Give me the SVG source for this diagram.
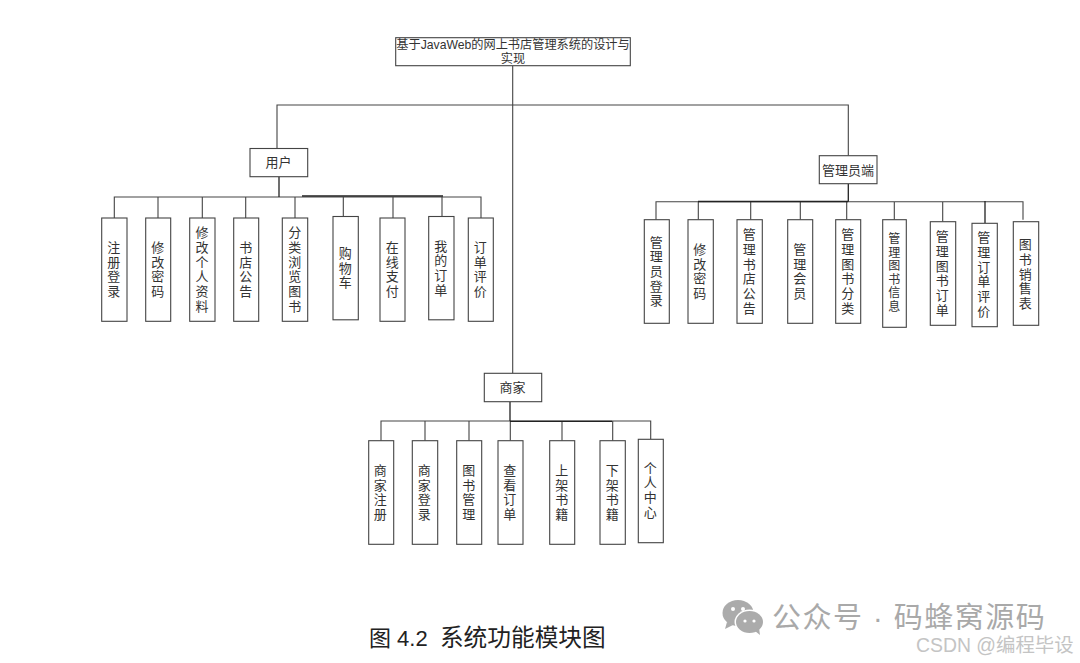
<svg xmlns="http://www.w3.org/2000/svg" width="1080" height="663" viewBox="0 0 1080 663">
<style>
text{font-family:"Liberation Sans","Noto Sans CJK SC",sans-serif;fill:#333}
.b{fill:#fff;stroke:#444;stroke-width:1.1}
.h{font-size:12.2px;text-anchor:middle}
.n{font-size:13px;text-anchor:middle}
.v{font-size:13px;text-anchor:middle;writing-mode:vertical-rl;letter-spacing:1.7px;transform:translate(-1.2px,-1px)}
.c{fill:none;stroke:#444;stroke-width:1.1}
.k{fill:none;stroke:#222;stroke-width:1.3}
.i{fill:#ababab}
.e{fill:#fff}
</style>
<rect width="1080" height="663" fill="#fff"/>
<g id="connectors">
<path class="c" d="M512.7 65.7V373.3M277 148.5V105H848.3V155.7"/>
<path class="c" d="M114.3 218V197H481V218M158 197V218M202.3 197V218M245.7 197V218M295 197V218M343.3 197V216.5M393 197V218M442 197V216.5"/>
<path class="k" d="M279 176.7V197M302 196H443"/>
<path class="c" d="M656 219.7V201.7H1023V219.7M698.3 201.7V219.7M750.7 201.7V219.7M800.3 201.7V219.7M846.7 201.7V219.7M894.3 201.7V219.7M942.7 201.7V221.7"/>
<path class="k" d="M848.3 183.7V201.7M698 201.5H848M985 201V223.3"/>
<path class="c" d="M381 440.7V421H650.7V439.3M425 421V440.7M469 421V440.7M510.3 421V440.7M562 421V440.7M612.7 421V440.7"/>
<path class="k" d="M510 401.7V421M510 421.3H612"/>
</g>
<g id="root"><rect class="b" x="395.7" y="37.7" width="234.6" height="28"/><text class="h" x="513" y="49">基于JavaWeb的网上书店管理系统的设计与</text><text class="h" x="513" y="63">实现</text></g>
<g id="user"><rect class="b" x="250" y="148.5" width="57.7" height="28.2"/><text class="n" x="278.5" y="167">用户</text></g>
<g id="admin"><rect class="b" x="819.3" y="155.7" width="57.7" height="28"/><text class="n" x="848" y="174.5">管理员端</text></g>
<g id="merchant"><rect class="b" x="484.3" y="373.3" width="57.4" height="28.4"/><text class="n" x="512.5" y="392">商家</text></g>
<g id="u1"><rect class="b" x="101.7" y="218" width="25.3" height="103.3"/><text class="v" x="114" y="271">注册登录</text></g>
<g id="u2"><rect class="b" x="145.7" y="218" width="25" height="103.3"/><text class="v" x="158" y="271">修改密码</text></g>
<g id="u3"><rect class="b" x="189.7" y="218" width="25.3" height="103.3"/><text class="v" x="202.3" y="271">修改个人资料</text></g>
<g id="u4"><rect class="b" x="233.7" y="218" width="25" height="103.3"/><text class="v" x="246" y="271">书店公告</text></g>
<g id="u5"><rect class="b" x="282.3" y="218" width="25.4" height="103.3"/><text class="v" x="295" y="271">分类浏览图书</text></g>
<g id="u6"><rect class="b" x="333" y="216.5" width="25.3" height="103.3"/><text class="v" x="345.5" y="269.5">购物车</text></g>
<g id="u7"><rect class="b" x="380" y="218" width="25" height="103.3"/><text class="v" x="392.5" y="271">在线支付</text></g>
<g id="u8"><rect class="b" x="428.7" y="216.5" width="25.3" height="103.3"/><text class="v" x="441" y="269.5">我的订单</text></g>
<g id="u9"><rect class="b" x="468.3" y="218" width="25" height="103.3"/><text class="v" x="480.5" y="271">订单评价</text></g>
<g id="a1"><rect class="b" x="644.3" y="219.7" width="25" height="103.6"/><text class="v" x="656.5" y="273">管理员登录</text></g>
<g id="a2"><rect class="b" x="688" y="219.7" width="25.3" height="103.6"/><text class="v" x="700" y="273">修改密码</text></g>
<g id="a3"><rect class="b" x="737" y="219.7" width="25.3" height="103.6"/><text class="v" x="749.5" y="273">管理书店公告</text></g>
<g id="a4"><rect class="b" x="787.7" y="219.7" width="25" height="103.6"/><text class="v" x="800" y="273">管理会员</text></g>
<g id="a5"><rect class="b" x="835.7" y="219.7" width="25" height="103.6"/><text class="v" x="848" y="273">管理图书分类</text></g>
<g id="a6"><rect class="b" x="882.7" y="219.7" width="23.6" height="107.6"/><text class="v" x="894" y="274" style="font-size:12px;letter-spacing:1.5px">管理图书信息</text></g>
<g id="a7"><rect class="b" x="930.3" y="221.7" width="25.4" height="103.6"/><text class="v" x="942.5" y="275">管理图书订单</text></g>
<g id="a8"><rect class="b" x="972" y="223.3" width="25.3" height="103.4"/><text class="v" x="984" y="276">管理订单评价</text></g>
<g id="a9"><rect class="b" x="1013.3" y="221.7" width="25.4" height="103.6"/><text class="v" x="1025.5" y="275.5">图书销售表</text></g>
<g id="m1"><rect class="b" x="368.7" y="440.7" width="25" height="103.6"/><text class="v" x="380.5" y="494">商家注册</text></g>
<g id="m2"><rect class="b" x="412.3" y="440.7" width="25.4" height="103.6"/><text class="v" x="424.5" y="494">商家登录</text></g>
<g id="m3"><rect class="b" x="456.7" y="440.7" width="25" height="103.6"/><text class="v" x="469" y="494">图书管理</text></g>
<g id="m4"><rect class="b" x="498" y="440.7" width="25" height="103.6"/><text class="v" x="510" y="494">查看订单</text></g>
<g id="m5"><rect class="b" x="549.7" y="440.7" width="25" height="103.6"/><text class="v" x="562" y="494">上架书籍</text></g>
<g id="m6"><rect class="b" x="600" y="440.7" width="25.3" height="103.6"/><text class="v" x="612.5" y="494">下架书籍</text></g>
<g id="m7"><rect class="b" x="638.3" y="439.3" width="25" height="103.4"/><text class="v" x="650.5" y="491.5">个人中心</text></g>
<text x="369" y="646" style="font-size:22px;fill:#222;white-space:pre">图 4.2  <tspan style="font-size:23.7px">系统功能模块图</tspan></text>
<g id="watermark">
<ellipse class="i" cx="738" cy="613" rx="15.5" ry="13"/>
<path class="i" d="M727 622l-2 7 8-4z"/>
<ellipse class="e" cx="749.5" cy="622" rx="15" ry="12.5"/>
<ellipse class="i" cx="749.5" cy="622" rx="13.5" ry="11"/>
<path class="i" d="M755 631l5 4-1-7z"/>
<circle class="e" cx="733" cy="609" r="2"/><circle class="e" cx="743" cy="609" r="2"/>
<circle class="e" cx="745" cy="621" r="1.6"/><circle class="e" cx="754" cy="621" r="1.6"/>
<text x="772" y="628" style="font-size:29px;fill:#a9a9a9;letter-spacing:1.5px">公众号 · 码蜂窝源码</text>
<text x="916" y="651.5" style="font-size:19.4px;fill:#c4c4c4">CSDN @编程毕设</text>
</g>
</svg>
